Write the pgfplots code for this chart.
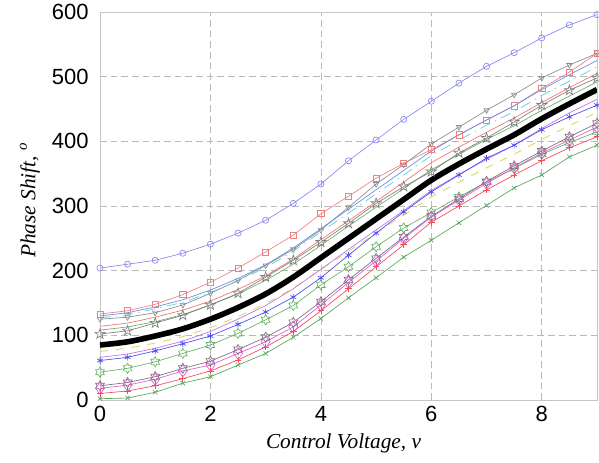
\documentclass[border=0pt]{standalone}
\usepackage{pgfplots}
\pgfplotsset{compat=1.18}
\usepackage{pgfplotstable}
\usepackage{fontspec}
\setmainfont{Liberation Sans}
\newfontfamily\serifit{Liberation Serif}
\usetikzlibrary{plotmarks}

\pgfdeclareplotmark{hexagram}{%
  \pgfpathmoveto{\pgfpointpolar{90}{\pgfplotmarksize}}%
  \pgfpathlineto{\pgfpointpolar{120}{0.577\pgfplotmarksize}}%
  \pgfpathlineto{\pgfpointpolar{150}{\pgfplotmarksize}}%
  \pgfpathlineto{\pgfpointpolar{180}{0.577\pgfplotmarksize}}%
  \pgfpathlineto{\pgfpointpolar{210}{\pgfplotmarksize}}%
  \pgfpathlineto{\pgfpointpolar{240}{0.577\pgfplotmarksize}}%
  \pgfpathlineto{\pgfpointpolar{270}{\pgfplotmarksize}}%
  \pgfpathlineto{\pgfpointpolar{300}{0.577\pgfplotmarksize}}%
  \pgfpathlineto{\pgfpointpolar{330}{\pgfplotmarksize}}%
  \pgfpathlineto{\pgfpointpolar{0}{0.577\pgfplotmarksize}}%
  \pgfpathlineto{\pgfpointpolar{30}{\pgfplotmarksize}}%
  \pgfpathlineto{\pgfpointpolar{60}{0.577\pgfplotmarksize}}%
  \pgfpathclose\pgfusepathqstroke}
\pgfdeclareplotmark{pentagram}{%
  \pgfpathmoveto{\pgfpointpolar{90}{\pgfplotmarksize}}%
  \pgfpathlineto{\pgfpointpolar{126}{0.382\pgfplotmarksize}}%
  \pgfpathlineto{\pgfpointpolar{162}{\pgfplotmarksize}}%
  \pgfpathlineto{\pgfpointpolar{198}{0.382\pgfplotmarksize}}%
  \pgfpathlineto{\pgfpointpolar{234}{\pgfplotmarksize}}%
  \pgfpathlineto{\pgfpointpolar{270}{0.382\pgfplotmarksize}}%
  \pgfpathlineto{\pgfpointpolar{306}{\pgfplotmarksize}}%
  \pgfpathlineto{\pgfpointpolar{342}{0.382\pgfplotmarksize}}%
  \pgfpathlineto{\pgfpointpolar{18}{\pgfplotmarksize}}%
  \pgfpathlineto{\pgfpointpolar{54}{0.382\pgfplotmarksize}}%
  \pgfpathclose\pgfusepathqstroke}

\definecolor{cCirc}{rgb}{0.53,0.53,0.94}
\definecolor{cRsq}{rgb}{0.94,0.50,0.50}
\definecolor{cGtri}{rgb}{0.55,0.55,0.55}
\definecolor{cBpl}{rgb}{0.40,0.55,0.90}
\definecolor{cCyd}{rgb}{0.35,0.80,0.80}
\definecolor{cRpl}{rgb}{0.95,0.45,0.45}
\definecolor{cGpl}{rgb}{0.40,0.70,0.40}
\definecolor{cGstar}{rgb}{0.50,0.50,0.50}
\definecolor{cYel}{rgb}{0.86,0.86,0.40}
\definecolor{cVio}{rgb}{0.75,0.45,0.90}
\definecolor{cBast}{rgb}{0.30,0.30,0.95}
\definecolor{cGhex}{rgb}{0.40,0.70,0.40}
\definecolor{cGrhex}{rgb}{0.45,0.45,0.45}
\definecolor{cMdia}{rgb}{0.90,0.35,0.85}
\definecolor{cRplus}{rgb}{0.95,0.30,0.35}
\definecolor{cGx}{rgb}{0.35,0.65,0.35}

\pgfplotstableread{
x   circ rsq gtri bpl cyd rpl gpl gstar blk yel vio bast ghex grhex mdia rplus gx
0   204 133 125 130 127 114 108 102 85  75  66  61  43  22  18  10  2
0.5 210 138 128 135 132 119 113 107 90  80  71  66  49  27  23  14  3
1   216 148 135 144 141 128 121 119 99  88  80  76  59  36  32  22  12
1.5 227 163 147 155 151 139 132 131 110 98  91  87  72  49  45  33  26
2   241 182 165 170 166 153 147 147 125 112 106 99  85  60  54  45  36
2.5 258 204 185 188 184 171 164 165 143 129 125 117 103 78  72  62  54
3   278 229 208 209 205 192 185 190 164 149 146 136 124 97  90  82  72
3.5 304 255 233 235 230 218 210 216 190 173 172 159 146 120 113 106 97
4   334 288 263 265 260 248 239 244 220 202 202 189 178 152 147 138 126
4.5 370 315 298 295 289 277 269 273 250 230 233 224 206 186 182 172 158
5   402 343 334 325 319 307 298 304 280 258 263 258 237 219 215 206 189
5.5 434 366 364 355 348 337 327 330 310 286 293 291 266 252 250 240 221
6   462 387 396 385 378 367 356 353 340 314 324 322 290 284 283 275 247
6.5 490 410 422 410 402 391 380 382 365 337 349 348 314 311 309 300 274
7   516 433 448 433 425 414 403 405 388 359 372 374 337 338 335 325 301
7.5 537 455 472 455 446 436 424 430 410 380 394 394 358 362 359 348 328
8   560 482 498 480 471 460 448 456 435 403 420 418 380 385 382 370 348
8.5 580 507 518 503 493 483 470 479 458 424 444 438 398 407 402 390 376
9   596 536 536 525 515 505 492 498 480 445 465 456 415 428 422 407 394
}\datatable

\begin{document}
\begin{tikzpicture}
\useasboundingbox (-75pt,-47.25pt) rectangle (374.25pt,300pt);
\begin{axis}[
  scale only axis, width=372.75pt, height=291pt,
  xmin=0, xmax=9, ymin=0, ymax=600,
  xtick={0,2,4,6,8}, ytick={0,100,...,600},
  grid=major,
  major grid style={gray!55, dash pattern=on 5pt off 3pt, line width=0.5pt},
  axis line style={gray!45, line width=0.6pt},
  major tick length=0pt,
  tick label style={font=\fontsize{16.5}{16.5}\selectfont},
  yticklabel style={xshift=-5pt},
  xticklabel style={yshift=-1pt},
  /pgf/number format/assume math mode=true,
  every axis x label/.style={at={(axis description cs:0.49,-0.111)}, anchor=center},
  every axis y label/.style={at={(axis description cs:-0.141,0.515)}, rotate=90, anchor=center},
  label style={font=\fontsize{16}{18}\selectfont},
  xlabel={\serifit\itshape Control Voltage, v},
  ylabel={\serifit\itshape Phase Shift, \textsuperscript{o}},
  every axis plot/.append style={line width=0.5pt},
]
\addplot[cCirc, mark=o, mark size=2.3pt] table[x=x,y=circ]{\datatable};
\addplot[cRsq, mark=square, mark size=2.3pt] table[x=x,y=rsq]{\datatable};
\addplot[cGtri, mark=triangle, mark size=2.3pt, mark options={rotate=180}] table[x=x,y=gtri]{\datatable};
\addplot[cBpl] table[x=x,y=bpl]{\datatable};
\addplot[cCyd, dash pattern=on 8pt off 4pt on 1pt off 4pt] table[x=x,y=cyd]{\datatable};
\addplot[cRpl] table[x=x,y=rpl]{\datatable};
\addplot[cGpl] table[x=x,y=gpl]{\datatable};
\addplot[cGstar, mark=pentagram, mark size=4pt] table[x=x,y=gstar]{\datatable};
\addplot[cYel, dash pattern=on 6pt off 6pt, line width=0.7pt] table[x=x,y=yel]{\datatable};
\addplot[cVio] table[x=x,y=vio]{\datatable};
\addplot[cBast, mark=asterisk, mark size=2.5pt] table[x=x,y=bast]{\datatable};
\addplot[cGhex, mark=hexagram, mark size=3.8pt] table[x=x,y=ghex]{\datatable};
\addplot[cGrhex, mark=hexagram, mark size=3.8pt] table[x=x,y=grhex]{\datatable};
\addplot[cMdia, mark=diamond, mark size=4.5pt] table[x=x,y=mdia]{\datatable};
\addplot[cRplus, mark=+, mark size=2.5pt] table[x=x,y=rplus]{\datatable};
\addplot[cGx, mark=x, mark size=2.3pt] table[x=x,y=gx]{\datatable};
\addplot[black, line width=4.2pt, smooth] table[x=x,y=blk]{\datatable};
\end{axis}
\end{tikzpicture}
\end{document}
